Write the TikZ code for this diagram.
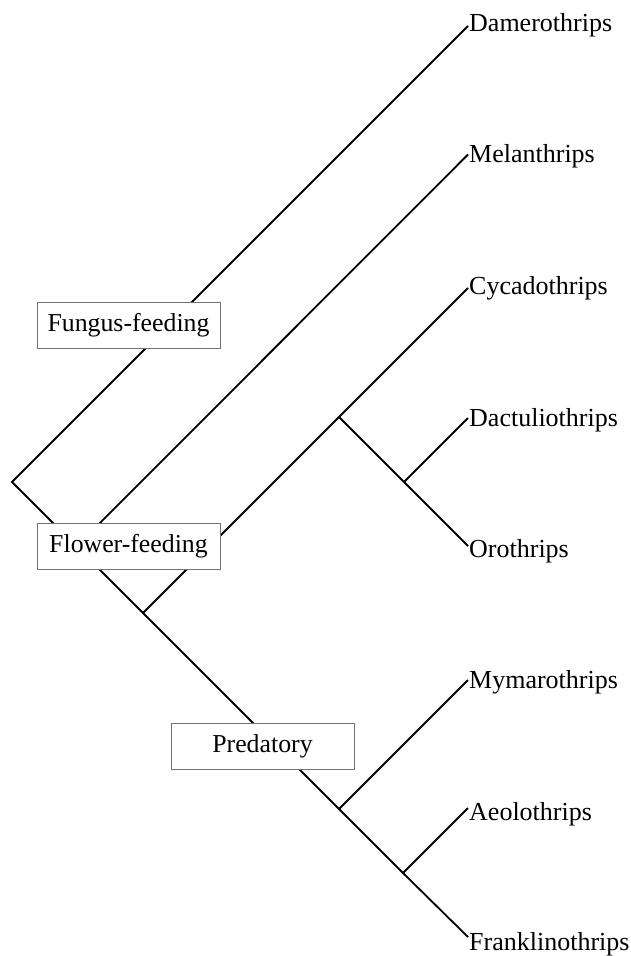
\documentclass[tikz,border=0pt]{standalone}
\usepackage{fontspec}
\setmainfont{Liberation Serif}
\begin{document}
\begin{tikzpicture}[x=1pt,y=-1pt,
  branch/.style={line width=1.8pt,black},
  leaf/.style={inner sep=0pt,font=\fontsize{26}{30}\selectfont,anchor=base west},
  habit/.style={draw={rgb,255:red,115;green,115;blue,115},line width=0.8pt,fill=white,
    minimum width=183pt,minimum height=46pt,inner sep=0pt,font=\fontsize{25.8}{30}\selectfont}]
\useasboundingbox (0,0) rectangle (631,956);
% internal nodes
\coordinate (root) at (12,482);
\coordinate (nMel) at (76.5,546.5);
\coordinate (nF) at (143,613);
\coordinate (nCyc) at (339,417);
\coordinate (nDac) at (404,482);
\coordinate (nPre) at (339,809);
\coordinate (nAeo) at (403,873);
% tips
\coordinate (tDam) at (468,26);
\coordinate (tMel) at (468,154.5);
\coordinate (tCyc) at (468,288);
\coordinate (tDac) at (468,418);
\coordinate (tOro) at (468,546);
\coordinate (tMym) at (468,680);
\coordinate (tAeo) at (468,808);
\coordinate (tFra) at (468,937);
% labels
\node[leaf] (Dam) at (469,31) {Damerothrips};
\node[leaf] (Mel) at (469,162) {Melanthrips};
\node[leaf] (Cyc) at (469,294) {Cycadothrips};
\node[leaf] (Dac) at (469,426) {Dactuliothrips};
\node[leaf] (Oro) at (469,557) {Orothrips};
\node[leaf] (Mym) at (469,688) {Mymarothrips};
\node[leaf] (Aeo) at (469,820) {Aeolothrips};
\node[leaf] (Fra) at (469,950) {Franklinothrips};
% branches
\draw[branch] (tDam) -- (root) -- (nMel) -- (nF) -- (nPre) -- (nAeo) -- (tFra);
\draw[branch] (nMel) -- (tMel);
\draw[branch] (nF) -- (nCyc) -- (tCyc);
\draw[branch] (nCyc) -- (nDac) -- (tOro);
\draw[branch] (nDac) -- (tDac);
\draw[branch] (nPre) -- (tMym);
\draw[branch] (nAeo) -- (tAeo);
% habit boxes
\node[habit] (fungus) at (128.5,325) {Fungus-feeding};
\node[habit] (flower) at (128.5,546) {Flower-feeding};
\node[habit] (pred) at (262.5,746) {Predatory};
\end{tikzpicture}
\end{document}
